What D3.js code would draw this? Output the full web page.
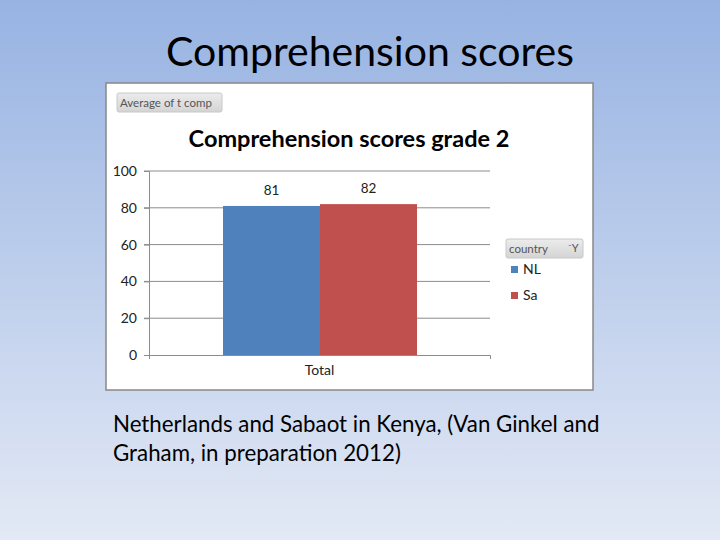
<!DOCTYPE html>
<html lang="en">
<head>
<meta charset="utf-8">
<title>Comprehension scores</title>
<script src="https://cdn.jsdelivr.net/npm/d3@7"></script>
<style>
  body { margin: 0; }
  svg { display: block; font-family: Lato, "Open Sans", sans-serif; }
</style>
</head>
<body>
<svg width="720" height="540"></svg>
<script>
// data
const categories = ["Total"];
const countries = ["NL", "Sa"];
const scores = [81, 82];
const yTicks = [0, 20, 40, 60, 80, 100];
const colors = ["#4f81bd", "#c0504d"];

const svg = d3.select("svg");

// slide background
const defs = svg.append("defs");
const bg = defs.append("linearGradient").attr("id", "bg")
  .attr("x1", 0).attr("y1", 0).attr("x2", 0).attr("y2", 1);
bg.append("stop").attr("offset", "0%").attr("stop-color", "#97b3e2");
bg.append("stop").attr("offset", "100%").attr("stop-color", "#e3e9f5");
const btn = defs.append("linearGradient").attr("id", "btn")
  .attr("x1", 0).attr("y1", 0).attr("x2", 0).attr("y2", 1);
btn.append("stop").attr("offset", "0%").attr("stop-color", "#ececec");
btn.append("stop").attr("offset", "100%").attr("stop-color", "#d4d4d4");

svg.append("rect").attr("width", 720).attr("height", 540).attr("fill", "url(#bg)");

// slide title
svg.append("text")
  .attr("x", 370).attr("y", 66)
  .attr("text-anchor", "middle")
  .attr("font-size", 41)
  .attr("fill", "#000")
  .text("Comprehension scores");

// chart frame
svg.append("rect")
  .attr("x", 106).attr("y", 83).attr("width", 487).attr("height", 307)
  .attr("fill", "#fff").attr("stroke", "#888").attr("stroke-width", 1.5);

// field button
svg.append("rect")
  .attr("x", 117).attr("y", 93).attr("width", 105).attr("height", 19)
  .attr("rx", 2).attr("fill", "url(#btn)").attr("stroke", "#c8c8c8");
svg.append("text")
  .attr("x", 120).attr("y", 107)
  .attr("font-size", 11.5).attr("fill", "#555")
  .text("Average of t comp");

// chart title
svg.append("text")
  .attr("x", 349).attr("y", 147)
  .attr("text-anchor", "middle")
  .attr("font-size", 23.5).attr("font-weight", "bold")
  .text("Comprehension scores grade 2");

// scales
const x0 = d3.scaleBand().domain(categories).range([149, 490]);
const x1 = d3.scaleBand().domain(countries)
  .range([74, x0.bandwidth() - 73]);
const y = d3.scaleLinear().domain([0, 100]).range([355, 171]);

// gridlines
svg.append("g")
  .selectAll("line")
  .data(yTicks.filter(d => d > 0))
  .join("line")
  .attr("x1", 144).attr("x2", 490)
  .attr("y1", d => y(d)).attr("y2", d => y(d))
  .attr("stroke", "#8c8c8c").attr("stroke-width", 1);

// y axis
const yAxis = svg.append("g")
  .attr("transform", "translate(149,0)")
  .call(d3.axisLeft(y).tickValues(yTicks).tickSize(5).tickPadding(7));
yAxis.select(".domain").attr("stroke", "#8c8c8c");
yAxis.selectAll(".tick line").attr("stroke", "#8c8c8c");
yAxis.selectAll("text").attr("font-size", 14).attr("fill", "#222")
  .attr("font-family", "Lato, sans-serif");

// bars
const groups = svg.append("g")
  .selectAll("g")
  .data(categories)
  .join("g")
  .attr("transform", d => `translate(${x0(d)},0)`);

groups.selectAll("rect")
  .data(countries.map((c, i) => ({ c, v: scores[i], i })))
  .join("rect")
  .attr("x", d => x1(d.c))
  .attr("width", x1.bandwidth())
  .attr("y", d => y(d.v))
  .attr("height", d => y(0) - y(d.v))
  .attr("fill", d => colors[d.i]);

groups.selectAll("text.val")
  .data(countries.map((c, i) => ({ c, v: scores[i] })))
  .join("text")
  .attr("class", "val")
  .attr("x", d => x1(d.c) + x1.bandwidth() / 2)
  .attr("y", d => y(d.v) - 11)
  .attr("text-anchor", "middle")
  .attr("font-size", 13.5).attr("fill", "#222")
  .text(d => d.v);

// x axis
const xAxis = svg.append("g")
  .attr("transform", "translate(0,355)")
  .call(d3.axisBottom(x0).tickSize(0).tickPadding(10).tickSizeOuter(4));
xAxis.select(".domain").attr("stroke", "#8c8c8c");
xAxis.selectAll("text").attr("font-size", 14).attr("fill", "#222")
  .attr("font-family", "Lato, sans-serif");

// legend
svg.append("rect")
  .attr("x", 506).attr("y", 239).attr("width", 77).attr("height", 19)
  .attr("rx", 2).attr("fill", "url(#btn)").attr("stroke", "#c8c8c8");
svg.append("text")
  .attr("x", 509).attr("y", 253)
  .attr("font-size", 11.5).attr("fill", "#555")
  .text("country");
svg.append("text")
  .attr("x", 568).attr("y", 252)
  .attr("font-size", 11).attr("fill", "#555")
  .text("⁻Y");

const legend = svg.append("g")
  .selectAll("g")
  .data(countries)
  .join("g")
  .attr("transform", (d, i) => `translate(511,${266 + i * 26})`);
legend.append("rect")
  .attr("width", 7).attr("height", 7)
  .attr("fill", (d, i) => colors[i]);
legend.append("text")
  .attr("x", 12).attr("y", 8)
  .attr("font-size", 14).attr("fill", "#222")
  .text(d => d);

// caption
const caption = svg.append("text")
  .attr("font-size", 22.3).attr("fill", "#000");
caption.append("tspan").attr("x", 113).attr("y", 432)
  .text("Netherlands and Sabaot in Kenya, (Van Ginkel and");
caption.append("tspan").attr("x", 113).attr("y", 461)
  .text("Graham, in preparation 2012)");
</script>
</body>
</html>
